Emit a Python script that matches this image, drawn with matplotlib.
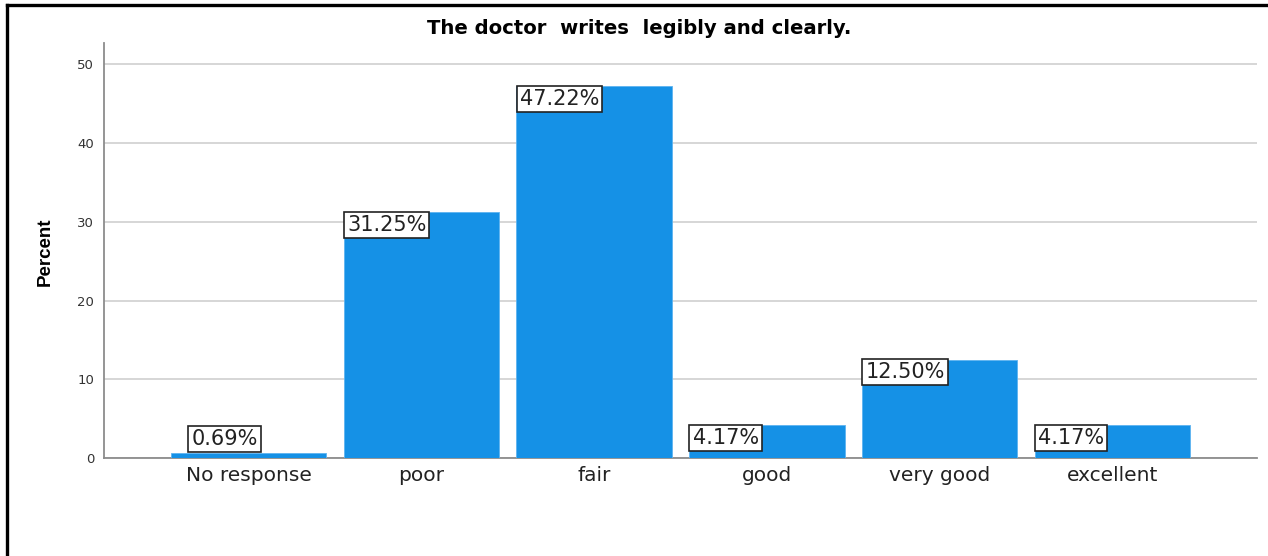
import matplotlib
matplotlib.use("Agg")
import matplotlib.pyplot as plt
from matplotlib.lines import Line2D

categories = ["No response", "poor", "fair", "good", "very good", "excellent"]
percent = [0.69, 31.25, 47.22, 4.17, 12.50, 4.17]
yticks = [0, 10, 20, 30, 40, 50]
title = "The doctor  writes  legibly and clearly."
ylabel = "Percent"

bar_color = "#1591e6"

W, H = 1268, 556
fig = plt.figure(figsize=(W / 100, H / 100), dpi=100)
ax = fig.add_axes([104 / W, 98 / H, 1153 / W, 415 / H])

x = list(range(len(categories)))
width = 0.9
bars = ax.bar(x, percent, width=width, color=bar_color, edgecolor="#5db3f0", linewidth=0.6, zorder=3)

ax.set_xlim(-0.836, len(categories) - 1 + 0.836)
ax.set_ylim(0, 52.7)
ax.set_yticks(yticks)
ax.set_yticklabels([str(v) for v in yticks], fontsize=9.5, color="#333333", family="DejaVu Sans")
ax.set_xticks(x)
ax.set_xticklabels(categories, fontsize=14.5, color="#222222", family="DejaVu Sans")
ax.tick_params(axis="both", length=0)
ax.tick_params(axis="y", pad=7)
ax.tick_params(axis="x", pad=6)

ax.grid(axis="y", color="#d6d6d6", linewidth=1.4, zorder=0)
for side in ("top", "right"):
    ax.spines[side].set_visible(False)
for side in ("left", "bottom"):
    ax.spines[side].set_color("#8c8c8c")
    ax.spines[side].set_linewidth(1.3)

# axis label and chart title
fig.text(45 / W, 1 - 252 / H, ylabel, rotation=90, ha="center", va="center",
         family="Liberation Sans", fontweight="bold", fontsize=13.5)
fig.text(639 / W, 1 - 29 / H, title, ha="center", va="center",
         family="DejaVu Sans", fontweight="bold", fontsize=14.1)

# value labels: boxed, anchored at each bar's left edge
box = dict(boxstyle="square,pad=0.15", facecolor="white", edgecolor="#222222", linewidth=1.2)
for rect, v in zip(bars, percent):
    left = rect.get_x()
    if v < 3.5:
        ax.annotate(f"{v:.2f}%", xy=(left, v), xytext=(15, 2.5), textcoords="offset points",
                    ha="left", va="bottom", fontsize=15, color="#222222", bbox=box, zorder=5)
    else:
        ax.annotate(f"{v:.2f}%", xy=(left, v), xytext=(2.5, -2.0), textcoords="offset points",
                    ha="left", va="top", fontsize=15, color="#222222", bbox=box, zorder=5)

# outer frame
fig.add_artist(Line2D([6.5 / W, 6.5 / W], [0, 1 - 5 / H], transform=fig.transFigure,
                      color="black", linewidth=2.4))
fig.add_artist(Line2D([6.5 / W, 1], [1 - 5 / H, 1 - 5 / H], transform=fig.transFigure,
                      color="black", linewidth=2.4))

fig.savefig("out.png", dpi=100, facecolor="white")
